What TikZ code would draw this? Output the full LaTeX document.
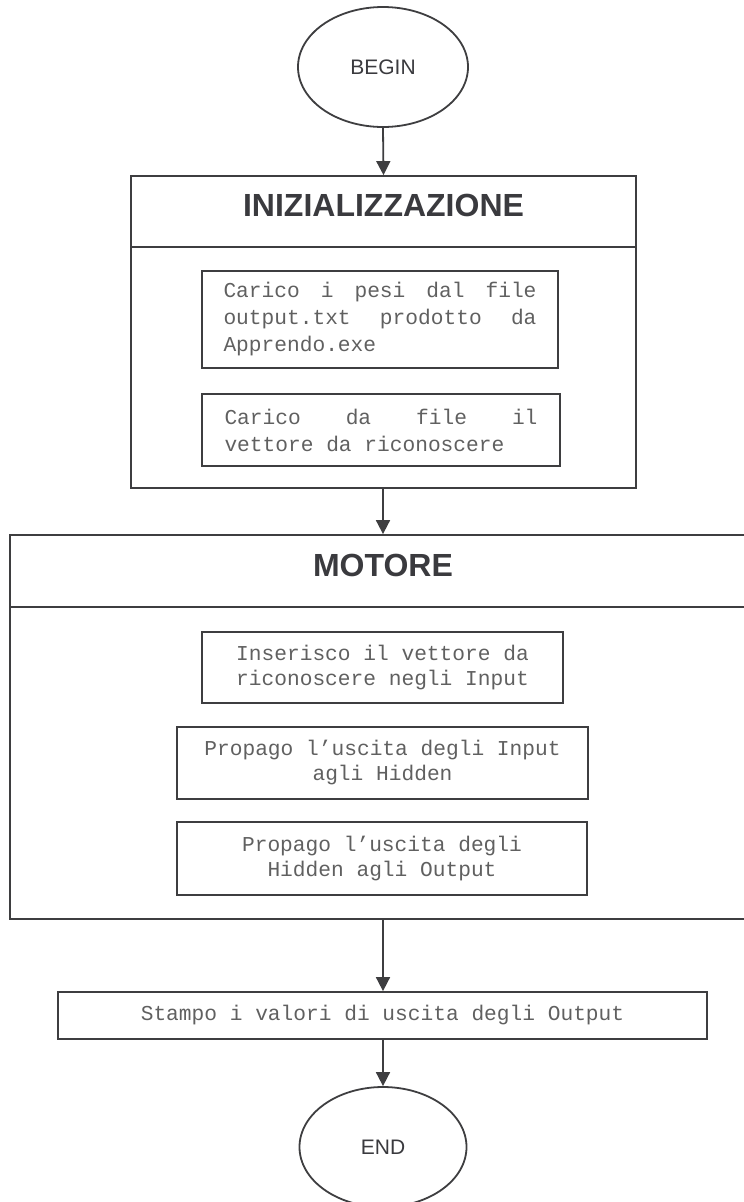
\documentclass[tikz,border=0pt]{standalone}
\usepackage{fontspec}
\setmainfont{Liberation Sans}
\newfontfamily\codefont{Liberation Mono}
\usetikzlibrary{arrows.meta,shapes.geometric}

\definecolor{ink}{RGB}{58,58,62}
\definecolor{codeink}{RGB}{96,96,96}
\definecolor{frame}{RGB}{62,62,64}

\tikzset{
  border/.style={draw=frame, line width=1.8pt},
  terminal/.style={border, ellipse, inner sep=0pt, text=ink,
    font=\fontsize{21}{25}\selectfont},
  header/.style={border, rectangle, inner sep=0pt, text=ink, text depth=12pt,
    font=\bfseries\fontsize{32}{36}\selectfont},
  body/.style={border, rectangle, inner sep=0pt},
  stepbox/.style={border, rectangle, inner sep=0pt, text=codeink, align=center,
    font=\codefont\fontsize{21.2}{25}\selectfont},
  leftbox/.style={stepbox, align=left,
    font=\codefont\fontsize{21.2}{27}\selectfont},
  flow/.style={draw=frame, line width=1.8pt,
    -{Triangle[length=14pt,width=14pt]}}
}

\begin{document}
\begin{tikzpicture}[x=1pt,y=-1pt]
\useasboundingbox (0,0) rectangle (744,1202);
\clip (0,0) rectangle (744,1202);

% start
\node[terminal, minimum width=170pt, minimum height=120pt] (begin) at (383,67) {BEGIN};

% initialisation block
\node[header, minimum width=505pt, minimum height=71pt] (initHead) at (383.5,211.5) {INIZIALIZZAZIONE};
\node[body, minimum width=505pt, minimum height=241pt] (initBody) at (383.5,367.5) {};

\node[leftbox, minimum width=356pt, minimum height=97pt] (loadW) at (380,319.5)
  {\hbox to 313pt{Carico\hfill i\hfill pesi\hfill dal\hfill file}\\
   \hbox to 313pt{output.txt\hfill prodotto\hfill da}\\
   Apprendo.exe};
\node[leftbox, minimum width=358pt, minimum height=72pt] (loadV) at (381,430)
  {\hbox to 313pt{Carico\hfill da\hfill file\hfill il}\\
   vettore da riconoscere};

% engine block
\node[header, minimum width=746pt, minimum height=72pt] (motHead) at (383,571) {MOTORE};
\node[body, minimum width=746pt, minimum height=312pt] (motBody) at (383,763) {};

\node[stepbox, minimum width=361pt, minimum height=71pt] (setIn) at (382.5,667.5)
  {Inserisco il vettore da\\riconoscere negli Input};
\node[stepbox, minimum width=411pt, minimum height=72pt] (propH) at (382.5,763)
  {Propago l’uscita degli Input\\agli Hidden};
\node[stepbox, minimum width=410pt, minimum height=73pt] (propO) at (382,858.5)
  {Propago l’uscita degli\\Hidden agli Output};

% output and end
\node[stepbox, minimum width=649pt, minimum height=47pt] (print) at (382.5,1015.5)
  {Stampo i valori di uscita degli Output};
\node[terminal, minimum width=167pt, minimum height=120pt] (end) at (383,1147) {END};

% connectors
\draw[flow] (begin.south) -- (initHead.north);
\draw[flow] (initBody.south -| begin.south) -- (motHead.north -| begin.south);
\draw[flow] (motBody.south) -- (print.north -| motBody.south);
\draw[flow] (print.south -| end.north) -- (end.north);
\end{tikzpicture}
\end{document}
